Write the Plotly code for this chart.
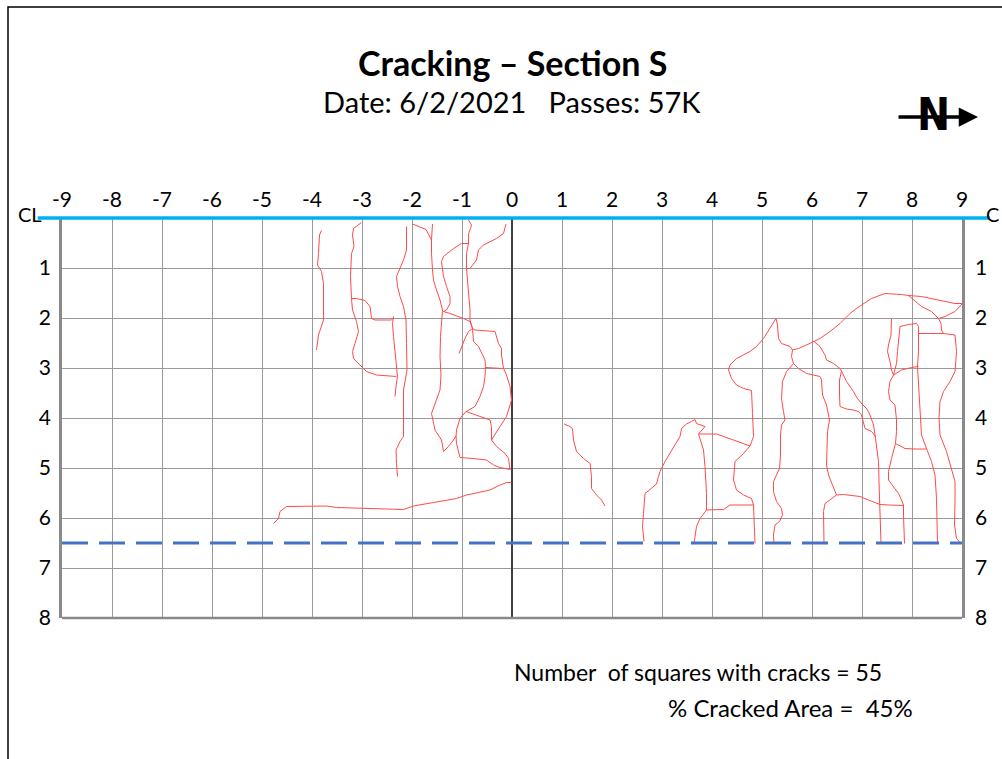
import plotly.graph_objects as go

# Grid: transverse offset (ft) from centre line, and distance (ft) from CL
x_ticks = list(range(-9, 10))
y_ticks = list(range(1, 9))

title_text = "<b>Cracking \u2013 Section S</b>"
subtitle_text = "Date: 6/2/2021&nbsp;&nbsp; Passes: 57K"
squares_text = "Number&nbsp; of squares with cracks = 55"
area_text = "% Cracked Area =&nbsp; 45%"

# crack traces (x offset, y depth)
a_x = [-3.81, -3.85, -3.87, -3.89, -3.81, -3.77, -3.77, -3.83, -3.87, -3.91]
a_y = [0.25, 0.34, 0.71, 0.94, 1.07, 1.31, 2.04, 2.21, 2.34, 2.64]

b_x = [-3.01, -3.11, -3.17, -3.19, -3.16, -3.21, -3.23, -3.21, -3.19, -3.11, -3.07, -3.14, -3.19, -3.17, -3.04, -2.91, -2.71, -2.31]
b_y = [0.09, 0.17, 0.21, 0.34, 0.57, 0.71, 1.17, 1.61, 1.84, 2.07, 2.27, 2.51, 2.67, 2.81, 2.94, 3.07, 3.14, 3.17]

b2_x = [-3.21, -3.11, -2.94, -2.84, -2.81, -2.74, -2.41, -2.37]
b2_y = [1.61, 1.61, 1.65, 1.77, 2.01, 2.04, 2.04, 1.99]

v1_x = [-2.37, -2.39, -2.37, -2.34, -2.31, -2.29, -2.32, -2.34]
v1_y = [1.97, 2.11, 2.37, 2.64, 2.91, 3.17, 3.37, 3.57]

k_x = [-2.11, -2.11, -2.17, -2.27, -2.31, -2.29, -2.24, -2.17, -2.12, -2.11, -2.10, -2.17, -2.17, -2.17, -2.24, -2.32, -2.31, -2.29]
k_y = [0.17, 0.64, 0.84, 1.07, 1.17, 1.37, 1.57, 1.77, 2.04, 2.51, 3.04, 3.44, 3.71, 4.37, 4.47, 4.64, 4.91, 5.17]

c_x = [-1.99, -1.87, -1.72, -1.61, -1.61, -1.59, -1.57, -1.51, -1.44, -1.39, -1.41, -1.43, -1.44, -1.42, -1.44, -1.61, -1.54, -1.41, -1.37, -1.27, -1.17, -1.12]
c_y = [0.12, 0.17, 0.23, 0.44, 0.71, 1.04, 1.24, 1.44, 1.64, 1.84, 2.04, 2.37, 2.77, 3.14, 3.44, 3.91, 4.24, 4.44, 4.67, 4.57, 4.44, 4.36]

c2_x = [-1.59, -1.61]
c2_y = [0.12, 0.44]

f_x = [-0.87, -1.01, -1.17, -1.37, -1.41, -1.37, -1.31, -1.24, -1.24, -1.31, -1.37, -1.24, -0.97, -0.84, -0.79]
f_y = [0.51, 0.51, 0.61, 0.77, 0.87, 1.17, 1.37, 1.57, 1.71, 1.84, 1.87, 1.91, 2.01, 2.07, 2.21]

e_x = [-0.87, -0.81, -0.83, -0.87, -0.87, -0.91, -0.91, -0.87, -0.84, -0.84, -0.79]
e_y = [0.04, 0.14, 0.21, 0.31, 0.51, 0.71, 1.01, 1.51, 1.84, 2.04, 2.21]

e2_x = [-0.91, -0.84, -0.71, -0.67, -0.57, -0.31, -0.17, -0.12]
e2_y = [1.01, 1.01, 0.84, 0.64, 0.54, 0.41, 0.31, 0.12]

e3_x = [-0.79, -0.87, -0.94, -1.01, -1.06]
e3_y = [2.21, 2.27, 2.41, 2.57, 2.71]

r1_x = [-0.79, -0.74, -0.34, -0.31, -0.27, -0.21, -0.21, -0.17, -0.11, -0.04, -0.01, -0.03, -0.11, -0.24, -0.37, -0.41]
r1_y = [2.21, 2.24, 2.27, 2.37, 2.51, 2.61, 2.74, 3.01, 3.14, 3.37, 3.64, 3.71, 3.97, 4.17, 4.37, 4.44]

r2_x = [-0.79, -0.77, -0.67, -0.61, -0.54, -0.53, -0.54, -0.57, -0.64, -0.74, -0.92]
r2_y = [2.21, 2.47, 2.57, 2.71, 2.84, 2.97, 3.17, 3.37, 3.57, 3.77, 3.87]

r3_x = [-0.53, -0.19]
r3_y = [2.99, 3.01]

r4_x = [-0.92, -0.71, -0.44, -0.41, -0.41, -0.31, -0.14, -0.07, -0.05, -0.04]
r4_y = [3.87, 3.94, 4.04, 4.17, 4.44, 4.57, 4.71, 4.81, 4.97, 5.04]

r5_x = [-0.92, -1.04, -1.11, -1.12, -1.11, -1.04, -0.77, -0.51, -0.37, -0.24, -0.04]
r5_y = [3.87, 4.01, 4.24, 4.36, 4.51, 4.79, 4.81, 4.84, 4.94, 4.99, 5.03]

l_x = [-4.77, -4.67, -4.64, -4.51, -3.71, -3.51, -2.17, -1.97, -1.57, -1.11, -0.91, -0.44, -0.24, -0.11, -0.01]
l_y = [6.11, 6.01, 5.87, 5.77, 5.76, 5.79, 5.83, 5.76, 5.69, 5.61, 5.54, 5.44, 5.34, 5.29, 5.29]

g_x = [1.04, 1.16, 1.21, 1.23, 1.29, 1.43, 1.56, 1.59, 1.59, 1.69, 1.79, 1.86]
g_y = [4.12, 4.17, 4.21, 4.44, 4.67, 4.81, 4.91, 5.17, 5.41, 5.54, 5.64, 5.76]

h_x = [2.64, 2.61, 2.63, 2.66, 2.76, 2.89, 2.93, 2.96, 3.06, 3.16, 3.29, 3.36, 3.39, 3.49, 3.59, 3.66, 3.69, 3.86, 3.73]
h_y = [6.47, 6.17, 5.91, 5.51, 5.43, 5.32, 5.17, 5.07, 4.87, 4.71, 4.51, 4.37, 4.21, 4.12, 4.07, 4.03, 4.11, 4.17, 4.32]

h2_x = [3.73, 3.83, 3.86, 3.89, 3.89, 3.76, 3.69, 3.64]
h2_y = [4.32, 4.64, 4.97, 5.51, 5.84, 6.01, 6.17, 6.51]

h3_x = [3.73, 4.09, 4.43, 4.76]
h3_y = [4.32, 4.32, 4.44, 4.56]

h4_x = [3.89, 4.23, 4.36, 4.83]
h4_y = [5.84, 5.83, 5.74, 5.74]

i_x = [4.86, 4.84, 4.83, 4.79, 4.63, 4.49, 4.43, 4.46, 4.63, 4.76, 4.83, 4.81, 4.79, 4.63, 4.49, 4.39, 4.33, 4.36, 4.49, 4.76, 4.89, 5.03, 5.16, 5.28, 5.31, 5.33, 5.39, 5.56, 5.61]
i_y = [6.51, 5.91, 5.74, 5.61, 5.54, 5.44, 5.24, 4.87, 4.71, 4.56, 4.37, 3.91, 3.45, 3.41, 3.34, 3.21, 3.04, 2.94, 2.81, 2.67, 2.57, 2.41, 2.21, 2.01, 2.14, 2.41, 2.51, 2.57, 2.64]

m1_x = [5.61, 5.73, 5.89, 6.04, 6.16, 6.36, 6.56, 6.76, 6.90, 7.19, 7.46, 7.79, 7.93, 8.19, 8.53, 8.86, 9.01]
m1_y = [2.64, 2.61, 2.54, 2.47, 2.41, 2.27, 2.11, 1.91, 1.80, 1.61, 1.51, 1.53, 1.55, 1.57, 1.64, 1.71, 1.71]

m2_x = [7.93, 8.19, 8.39, 8.53, 8.58, 8.59, 8.63]
m2_y = [1.55, 1.77, 1.87, 2.01, 2.11, 2.24, 2.31]

m3_x = [9.01, 8.86, 8.66, 8.53]
m3_y = [1.71, 1.87, 1.97, 2.01]

m4_x = [8.13, 8.63, 8.86, 8.89, 8.86, 8.76, 8.63, 8.56, 8.54, 8.56, 8.69, 8.79, 8.86, 8.86, 8.85, 8.89, 8.98]
m4_y = [2.31, 2.31, 2.34, 2.67, 3.07, 3.27, 3.47, 3.67, 4.00, 4.34, 4.67, 5.01, 5.27, 5.67, 6.14, 6.41, 6.51]

m5_x = [7.76, 7.93, 8.09, 8.13, 8.13, 8.13, 8.11, 8.13, 8.16, 8.18, 8.19, 8.29, 8.39, 8.46, 8.49, 8.51]
m5_y = [2.17, 2.13, 2.11, 2.17, 2.31, 2.67, 2.97, 3.34, 3.67, 4.00, 4.34, 4.61, 4.87, 5.14, 5.61, 6.51]

m6_x = [7.76, 7.74, 7.71, 7.69, 7.63]
m6_y = [2.17, 2.34, 2.67, 2.91, 3.14]

m7_x = [7.59, 7.58, 7.53, 7.51, 7.56, 7.59, 7.63, 7.56, 7.53, 7.56, 7.66, 7.69, 7.69, 7.67, 7.59, 7.53, 7.53, 7.63, 7.73, 7.79, 7.83, 7.83, 7.85]
m7_y = [2.01, 2.34, 2.54, 2.67, 2.87, 3.04, 3.14, 3.27, 3.47, 3.64, 3.74, 4.04, 4.27, 4.51, 4.81, 5.07, 5.24, 5.37, 5.51, 5.64, 5.74, 5.94, 6.51]

m8_x = [7.63, 7.79, 7.99, 8.13]
m8_y = [3.14, 3.04, 2.99, 2.97]

m9_x = [7.67, 7.86, 8.06, 8.29]
m9_y = [4.51, 4.61, 4.62, 4.62]

n1_x = [5.61, 5.59, 5.63, 5.49, 5.41, 5.39, 5.43, 5.46, 5.39, 5.37, 5.37, 5.35, 5.29, 5.23, 5.23, 5.29, 5.39, 5.41, 5.35, 5.26, 5.23, 5.24]
n1_y = [2.64, 2.77, 2.91, 3.07, 3.27, 3.61, 3.87, 4.04, 4.14, 4.34, 4.74, 5.01, 5.14, 5.27, 5.47, 5.67, 5.81, 5.94, 6.07, 6.14, 6.34, 6.51]

n2_x = [5.63, 5.73, 5.89, 6.06, 6.16, 6.19, 6.21, 6.29, 6.33, 6.35, 6.31, 6.29, 6.33, 6.43, 6.49, 6.63, 6.76, 6.96, 7.13, 7.36, 7.53, 7.83]
n2_y = [2.91, 3.01, 3.11, 3.15, 3.17, 3.24, 3.54, 3.74, 3.94, 4.04, 4.27, 4.94, 5.14, 5.37, 5.54, 5.53, 5.54, 5.57, 5.64, 5.73, 5.74, 5.75]

n3_x = [6.49, 6.36, 6.26, 6.23, 6.23, 6.24]
n3_y = [5.54, 5.64, 5.71, 5.87, 6.14, 6.51]

n4_x = [6.04, 6.16, 6.26, 6.29, 6.43, 6.56, 6.59]
n4_y = [2.47, 2.57, 2.74, 2.84, 2.91, 3.01, 3.06]

n5_x = [6.59, 6.55, 6.55, 6.56, 6.69, 6.83, 6.93, 6.99, 7.06, 7.19, 7.28]
n5_y = [3.06, 3.24, 3.54, 3.77, 3.82, 3.84, 3.87, 3.94, 4.21, 4.27, 4.38]

n6_x = [6.59, 6.69, 6.83, 6.90, 7.00, 7.10, 7.16, 7.23, 7.26, 7.29, 7.33, 7.34, 7.36, 7.38]
n6_y = [3.06, 3.27, 3.47, 3.60, 3.72, 3.82, 3.94, 4.14, 4.34, 4.61, 4.87, 5.27, 5.81, 6.51]

cracks = [
    (a_x, a_y), (b_x, b_y), (b2_x, b2_y), (v1_x, v1_y), (k_x, k_y),
    (c_x, c_y), (c2_x, c2_y), (f_x, f_y), (e_x, e_y), (e2_x, e2_y),
    (e3_x, e3_y), (r1_x, r1_y), (r2_x, r2_y), (r3_x, r3_y), (r4_x, r4_y),
    (r5_x, r5_y), (l_x, l_y), (g_x, g_y), (h_x, h_y), (h2_x, h2_y),
    (h3_x, h3_y), (h4_x, h4_y), (i_x, i_y), (m1_x, m1_y), (m2_x, m2_y),
    (m3_x, m3_y), (m4_x, m4_y), (m5_x, m5_y), (m6_x, m6_y), (m7_x, m7_y),
    (m8_x, m8_y), (m9_x, m9_y), (n1_x, n1_y), (n2_x, n2_y), (n3_x, n3_y),
    (n4_x, n4_y), (n5_x, n5_y), (n6_x, n6_y),
]

wheelpath_limit = 6.5

FONT = "Lato, Calibri, 'Open Sans', sans-serif"
GRID = "#9a9a9a"
BORDER = "#8a8a8a"

fig = go.Figure()

for cx, cy in cracks:
    fig.add_trace(go.Scatter(x=cx, y=cy, mode="lines",
                             line=dict(color="#ff4a4a", width=1),
                             hoverinfo="skip", showlegend=False))

# dummy trace so the right-hand axis gets drawn
fig.add_trace(go.Scatter(x=[None], y=[None], yaxis="y2", showlegend=False))

fig.update_layout(
    width=1002, height=759,
    margin=dict(l=62, r=40, t=218, b=141),
    paper_bgcolor="white", plot_bgcolor="white",
    font=dict(family=FONT, color="black", size=21),
    xaxis=dict(range=[-9, 9], side="top", tickvals=x_ticks,
               ticktext=[str(v) for v in x_ticks],
               showgrid=True, gridcolor=GRID, gridwidth=1.3,
               zeroline=True, zerolinecolor="#404040", zerolinewidth=2,
               showline=False,
               ticks="", ticklabelstandoff=6, fixedrange=True),
    yaxis=dict(range=[8, 0], tickvals=y_ticks,
               ticktext=[str(v) for v in y_ticks],
               showgrid=True, gridcolor=GRID, gridwidth=1.3, zeroline=False,
               showline=True, mirror=True, linecolor=BORDER, linewidth=2.5,
               ticks="", ticklabelstandoff=4, fixedrange=True),
    yaxis2=dict(range=[8, 0], overlaying="y", side="right", tickvals=y_ticks,
                ticktext=[str(v) for v in y_ticks], showgrid=False,
                zeroline=False, showline=False, ticks="",
                ticklabelstandoff=12, fixedrange=True),
    showlegend=False,
)

# bottom edge of the grid (paper refs so the stroke is not clipped)
fig.add_shape(type="line", xref="paper", yref="paper", x0=0, x1=1, y0=0, y1=0,
              line=dict(color=BORDER, width=2.5))

# centre line (CL) along the top edge, and the 6.5 ft limit
fig.add_shape(type="line", xref="paper", yref="paper", x0=-0.027, x1=1.031,
              y0=1, y1=1, line=dict(color="#00b0f0", width=3.5))
fig.add_shape(type="line", xref="x", yref="y", x0=-9, x1=9,
              y0=wheelpath_limit, y1=wheelpath_limit,
              line=dict(color="#4472c4", width=3, dash="26px,11px"))

# outer frame
fig.add_shape(type="rect", xref="paper", yref="paper", x0=-0.06, x1=1.07,
              y0=-0.45, y1=1.5275, line=dict(color="black", width=1.5))

fig.add_annotation(text="CL", xref="paper", yref="paper", x=-0.0356, y=1.01,
                   xanchor="center", yanchor="middle", showarrow=False,
                   font=dict(size=20))
fig.add_annotation(text="C", xref="paper", yref="paper", x=1.0433, y=1.01,
                   xanchor="right", yanchor="middle", showarrow=False,
                   font=dict(size=20))

fig.add_annotation(text=title_text, xref="paper", yref="paper", x=0.5, y=1.39,
                   xanchor="center", yanchor="middle", showarrow=False,
                   font=dict(size=34))
fig.add_annotation(text=subtitle_text, xref="paper", yref="paper", x=0.5,
                   y=1.29, xanchor="center", yanchor="middle",
                   showarrow=False, font=dict(size=29))

fig.add_annotation(text=squares_text, xref="paper", yref="paper", x=0.5,
                   y=-0.135, xanchor="left", yanchor="middle",
                   showarrow=False, font=dict(size=23))
fig.add_annotation(text=area_text, xref="paper", yref="paper", x=0.671,
                   y=-0.2225, xanchor="left", yanchor="middle",
                   showarrow=False, font=dict(size=24))

# north arrow
fig.add_annotation(text="<b>N</b>", xref="paper", yref="paper", x=0.9678,
                   y=1.26, xanchor="center", yanchor="middle",
                   showarrow=False,
                   font=dict(size=44, family="'Liberation Sans Narrow', 'DejaVu Sans Condensed', 'Liberation Sans'"))
fig.add_annotation(text="", xref="paper", yref="paper", x=1.0178, y=1.2525,
                   ax=-81, ay=0, showarrow=True, arrowhead=2, arrowsize=1.1,
                   arrowwidth=3.5, arrowcolor="black")

fig.write_html("out.html", config={"displayModeBar": False},
               post_script="document.body.style.margin='0';")
